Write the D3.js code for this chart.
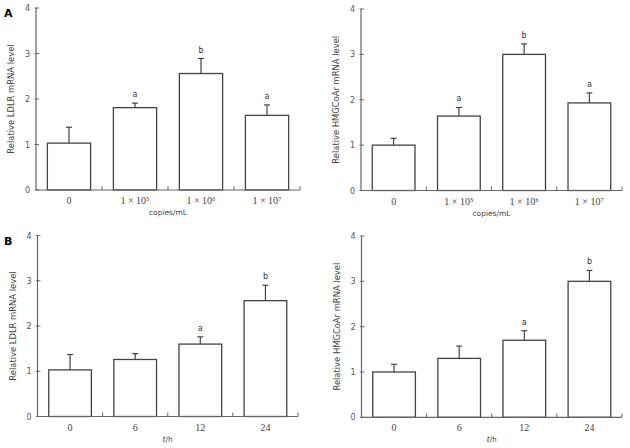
<!DOCTYPE html>
<html><head><meta charset="utf-8">
<script src="https://cdn.jsdelivr.net/npm/d3@7"></script>
<style>body{margin:0;background:#fff;}svg{display:block;}</style>
</head><body>
<svg id="chart" width="630" height="448"></svg>
<script>
const doseLabels = ["0", "1 × 10⁵", "1 × 10⁶", "1 × 10⁷"];
const timeLabels = ["0", "6", "12", "24"];
const yTicks = [0, 1, 2, 3, 4];

const ldlrDose = [1.03, 1.81, 2.56, 1.64];
const ldlrDoseErr = [0.35, 0.10, 0.33, 0.23];
const ldlrDoseSig = ["", "a", "b", "a"];

const hmgDose = [1.00, 1.64, 3.00, 1.93];
const hmgDoseErr = [0.15, 0.19, 0.23, 0.22];
const hmgDoseSig = ["", "a", "b", "a"];

const ldlrTime = [1.03, 1.26, 1.60, 2.56];
const ldlrTimeErr = [0.34, 0.13, 0.16, 0.34];
const ldlrTimeSig = ["", "", "a", "b"];

const hmgTime = [1.00, 1.30, 1.70, 3.00];
const hmgTimeErr = [0.17, 0.27, 0.21, 0.24];
const hmgTimeSig = ["", "", "a", "b"];

const svg = d3.select("#chart");
const axisCol = "#666";
const barCol = "#444";

function panel(o) {
  const g = svg.append("g");
  const x = d3.scaleBand().domain(o.cats).range([o.x0, o.x1]).paddingInner(0).paddingOuter(0);
  const y = d3.scaleLinear().domain([0, 4]).range([o.y0, o.y4]);
  const bw = x.bandwidth() * 0.655;
  const data = o.cats.map((c, i) => ({c, v: o.vals[i], e: o.errs[i], s: o.sig[i]}));

  g.selectAll("rect.bar").data(data).enter().append("rect")
    .attr("x", d => x(d.c) + (x.bandwidth() - bw) / 2)
    .attr("y", d => y(d.v))
    .attr("width", bw)
    .attr("height", d => y(0) - y(d.v))
    .attr("fill", "#fff").attr("stroke", barCol).attr("stroke-width", 1.3);
  g.selectAll("line.err").data(data).enter().append("line")
    .attr("x1", d => x(d.c) + x.bandwidth() / 2).attr("x2", d => x(d.c) + x.bandwidth() / 2)
    .attr("y1", d => y(d.v)).attr("y2", d => y(d.v + d.e))
    .attr("stroke", barCol).attr("stroke-width", 1.2);
  g.selectAll("line.cap").data(data).enter().append("line")
    .attr("x1", d => x(d.c) + x.bandwidth() / 2 - 3).attr("x2", d => x(d.c) + x.bandwidth() / 2 + 3)
    .attr("y1", d => y(d.v + d.e)).attr("y2", d => y(d.v + d.e))
    .attr("stroke", barCol).attr("stroke-width", 1.2);
  g.selectAll("text.sig").data(data.filter(d => d.s)).enter().append("text")
    .attr("x", d => x(d.c) + x.bandwidth() / 2)
    .attr("y", d => y(d.v + d.e) - 6)
    .attr("text-anchor", "middle")
    .attr("font-family", "DejaVu Sans, sans-serif").attr("font-size", 8)
    .attr("fill", "#333").text(d => d.s);

  const ya = d3.axisLeft(y).tickValues(yTicks).tickFormat(d3.format("d")).tickSize(0).tickPadding(6);
  const yg = g.append("g").attr("transform", `translate(${o.x0},0)`).call(ya);
  yg.select(".domain").remove();
  yg.selectAll("text").attr("font-family", "DejaVu Sans, sans-serif").attr("font-size", 8).attr("fill", "#555");
  g.append("line").attr("x1", o.x0).attr("x2", o.x0).attr("y1", y(0)).attr("y2", y(4))
    .attr("stroke", axisCol).attr("stroke-width", 1.2);
  g.selectAll("line.yt").data(yTicks).enter().append("line")
    .attr("x1", o.x0 - 1.5).attr("x2", o.x0 + 3).attr("y1", d => y(d)).attr("y2", d => y(d))
    .attr("stroke", axisCol).attr("stroke-width", 1);

  g.append("line").attr("x1", o.x0).attr("x2", o.x1).attr("y1", y(0)).attr("y2", y(0))
    .attr("stroke", axisCol).attr("stroke-width", 1.2);
  const bounds = o.cats.slice(1).map(c => x(c)).concat([o.x1]);
  g.selectAll("line.xt").data(bounds).enter().append("line")
    .attr("x1", d => d).attr("x2", d => d).attr("y1", y(0)).attr("y2", y(0) - 4)
    .attr("stroke", axisCol).attr("stroke-width", 1);
  g.selectAll("text.xl").data(o.cats).enter().append("text")
    .attr("x", d => x(d) + x.bandwidth() / 2)
    .attr("y", y(0) + 14)
    .attr("text-anchor", "middle")
    .attr("font-family", "Liberation Serif, Times New Roman, serif").attr("font-size", 10)
    .attr("fill", "#444").text(d => d);

  const xt = g.append("text").attr("x", (o.x0 + o.x1) / 2).attr("y", y(0) + 25)
    .attr("text-anchor", "middle").attr("font-family", "DejaVu Sans, sans-serif")
    .attr("font-size", 7.5).attr("fill", "#444");
  if (o.xTitleItalic) {
    xt.append("tspan").attr("font-style", "italic").attr("font-family", "Liberation Serif, serif").attr("font-size", 10).text(o.xTitleItalic);
    xt.append("tspan").text(o.xTitle);
  } else {
    xt.text(o.xTitle);
  }

  g.append("text")
    .attr("transform", `translate(${o.x0 - 22},${(y(0) + y(4)) / 2}) rotate(-90)`)
    .attr("text-anchor", "middle").attr("font-family", "DejaVu Sans, sans-serif")
    .attr("font-size", 8.4).attr("fill", "#444").text(o.yTitle);

  if (o.letter) {
    g.append("text").attr("x", 4).attr("y", o.y4 + 9)
      .attr("font-family", "DejaVu Sans, sans-serif").attr("font-weight", "bold")
      .attr("font-size", 11).attr("fill", "#000").text(o.letter);
  }
}

panel({x0: 36, x1: 300, y0: 190, y4: 8, cats: doseLabels, vals: ldlrDose, errs: ldlrDoseErr, sig: ldlrDoseSig,
  xTitle: "copies/mL", yTitle: "Relative LDLR mRNA level", letter: "A"});
panel({x0: 361, x1: 622, y0: 190.5, y4: 9, cats: doseLabels, vals: hmgDose, errs: hmgDoseErr, sig: hmgDoseSig,
  xTitle: "copies/mL", yTitle: "Relative HMGCoAr mRNA level"});
panel({x0: 37.5, x1: 298, y0: 416.5, y4: 235.5, cats: timeLabels, vals: ldlrTime, errs: ldlrTimeErr, sig: ldlrTimeSig,
  xTitleItalic: "t", xTitle: "/h", yTitle: "Relative LDLR mRNA level", letter: "B"});
panel({x0: 361.5, x1: 622, y0: 417.3, y4: 236, cats: timeLabels, vals: hmgTime, errs: hmgTimeErr, sig: hmgTimeSig,
  xTitleItalic: "t", xTitle: "/h", yTitle: "Relative HMGCoAr mRNA level"});
</script>
</body></html>
